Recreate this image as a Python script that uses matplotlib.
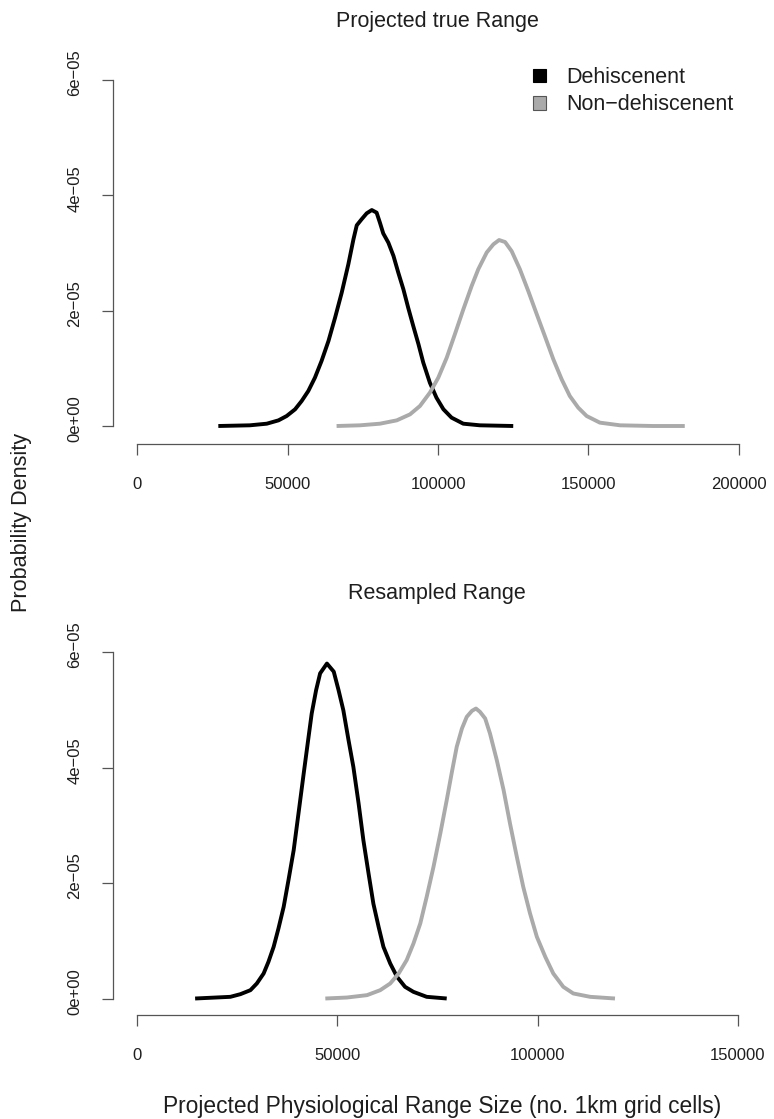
import matplotlib
matplotlib.use("Agg")
import matplotlib.pyplot as plt
import matplotlib.transforms as mtransforms
from matplotlib.patches import Patch

plt.rcParams['font.family'] = ['Liberation Sans', 'DejaVu Sans']

# ---------------- data ----------------
series_names = ["Dehiscenent", "Non\u2212dehiscenent"]

# Panel 1: Projected true Range (x: range size, y: density in units of 1e-5)
true_dehis_x = [27000, 37500, 43100, 47000, 49700, 52500, 54700, 56900, 59100, 61300,
                63600, 65800, 68000, 70200, 71900, 73000, 74600, 76300, 78000, 79600,
                80700, 81800, 83500, 85200, 86800, 88500, 90100, 91800, 93500, 95100,
                97300, 99500, 101800, 104500, 108400, 113900, 125000]
true_dehis_y = [0.00, 0.012, 0.040, 0.098, 0.173, 0.289, 0.434, 0.607, 0.838, 1.127,
                1.474, 1.879, 2.312, 2.803, 3.237, 3.480, 3.584, 3.688, 3.745, 3.700,
                3.526, 3.340, 3.180, 2.950, 2.660, 2.370, 2.050, 1.730, 1.420, 1.100,
                0.750, 0.490, 0.290, 0.145, 0.040, 0.012, 0.00]

true_nondehis_x = [66300, 74100, 80700, 86300, 90700, 94000, 97300, 100100, 102900, 105600,
                   108400, 111200, 113400, 116200, 118400, 120300, 122300, 124500, 127200, 130000,
                   132800, 135500, 138300, 141100, 143800, 146600, 149400, 153800, 160500, 171500,
                   182000]
true_nondehis_y = [0.00, 0.012, 0.040, 0.098, 0.202, 0.347, 0.578, 0.838, 1.185, 1.590,
                   2.020, 2.430, 2.720, 3.010, 3.150, 3.225, 3.190, 3.030, 2.720, 2.340,
                   1.940, 1.560, 1.160, 0.809, 0.520, 0.318, 0.173, 0.058, 0.012, 0.00,
                   0.00]

# Panel 2: Resampled Range
res_dehis_x = [14500, 23300, 25800, 28300, 29900, 31600, 32800, 34100, 35300, 36600,
               37800, 39100, 40300, 41600, 42700, 43600, 44700, 45700, 47400, 49100,
               50300, 51500, 52800, 54000, 55300, 56500, 57800, 59000, 60300, 61500,
               63200, 64900, 66900, 69000, 72300, 77300]
res_dehis_y = [0.00, 0.029, 0.075, 0.144, 0.260, 0.433, 0.635, 0.895, 1.212, 1.587,
               2.049, 2.568, 3.204, 3.896, 4.470, 4.935, 5.340, 5.630, 5.800, 5.660,
               5.340, 4.990, 4.470, 4.010, 3.380, 2.740, 2.160, 1.640, 1.240, 0.895,
               0.606, 0.375, 0.202, 0.115, 0.029, 0.00]

res_nondehis_x = [47000, 52400, 57400, 60700, 63200, 65300, 67300, 69000, 70700, 72300,
                  74000, 75700, 77300, 78600, 79800, 81100, 82300, 83600, 84600, 85600,
                  86900, 88100, 89800, 91500, 93100, 94800, 96400, 98100, 99800, 101900,
                  103900, 106400, 108900, 113100, 119300]
res_nondehis_y = [0.00, 0.017, 0.058, 0.144, 0.260, 0.433, 0.664, 0.952, 1.299, 1.760,
                  2.280, 2.857, 3.434, 3.925, 4.358, 4.675, 4.877, 4.981, 5.021, 4.964,
                  4.849, 4.589, 4.127, 3.608, 3.030, 2.453, 1.934, 1.472, 1.068, 0.722,
                  0.433, 0.202, 0.087, 0.029, 0.00]

y_scale = 1e-5
y_ticks = [0, 2e-5, 4e-5, 6e-5]
y_tick_labels = ["0e+00", "2e\u221205", "4e\u221205", "6e\u221205"]
x_ticks_top = [0, 50000, 100000, 150000, 200000]
x_ticks_bottom = [0, 50000, 100000, 150000]

titles = ["Projected true Range", "Resampled Range"]
xlabel = "Projected Physiological Range Size (no. 1km grid cells)"
ylabel = "Probability Density"

# ---------------- styling ----------------
W, H = 774, 1119
col_black = "#000000"
col_grey = "#AAAAAA"
axis_col = "#555555"
text_col = "#1e1e1e"
lw_curve = 2.8

fig = plt.figure(figsize=(W / 100, H / 100), dpi=100)


def px_axes(left, right, top, bottom):
    return fig.add_axes([left / W, 1 - bottom / H, (right - left) / W, (bottom - top) / H])


def style(ax, xticks, xmax):
    for s in ("top", "right"):
        ax.spines[s].set_visible(False)
    for s in ("left", "bottom"):
        ax.spines[s].set_color(axis_col)
        ax.spines[s].set_linewidth(0.9)
    ax.spines["left"].set_bounds(0, 6e-5)
    ax.spines["bottom"].set_bounds(0, xmax)
    ax.set_yticks(y_ticks)
    ax.set_yticklabels(y_tick_labels, rotation=90, va="center", fontsize=12, color=text_col)
    ax.set_xticks(xticks)
    ax.set_xticklabels([str(v) for v in xticks], fontsize=12, color=text_col)
    ax.tick_params(axis="both", length=8, width=0.9, color=axis_col)
    ax.tick_params(axis="x", pad=16)
    ax.tick_params(axis="y", pad=14)
    shift = mtransforms.ScaledTranslation(0, 0.07, fig.dpi_scale_trans)
    for lab in ax.get_yticklabels():
        lab.set_transform(lab.get_transform() + shift)
    ax.patch.set_alpha(0)


def draw(ax, xs, ys, color):
    ax.plot(xs, [v * y_scale for v in ys], color=color, lw=lw_curve,
            solid_joinstyle="round", solid_capstyle="butt")


# top panel
ax1 = px_axes(113, 763, 66, 444)
ax1.set_xlim(-0.04 * 200000, 1.04 * 200000)
ax1.set_ylim(-(18 / 346) * 6e-5, 6e-5 + (14 / 346) * 6e-5)
draw(ax1, true_dehis_x, true_dehis_y, col_black)
draw(ax1, true_nondehis_x, true_nondehis_y, col_grey)
style(ax1, x_ticks_top, 200000)

# bottom panel
ax2 = px_axes(113, 762, 638, 1014.5)
ax2.set_xlim(-0.04 * 150000, 1.04 * 150000)
ax2.set_ylim(-(16 / 346.5) * 6e-5, 6e-5 + (14 / 346.5) * 6e-5)
draw(ax2, res_dehis_x, res_dehis_y, col_black)
draw(ax2, res_nondehis_x, res_nondehis_y, col_grey)
style(ax2, x_ticks_bottom, 150000)

# titles and labels
fig.text(437 / W, 1 - 21 / H, titles[0], ha="center", va="center", fontsize=15.5, color=text_col)
fig.text(437 / W, 1 - 593 / H, titles[1], ha="center", va="center", fontsize=15.5, color=text_col)
fig.text(442 / W, 1 - 1106 / H, xlabel, ha="center", va="center", fontsize=16.4, color=text_col)
fig.text(22 / W, 1 - 522 / H, ylabel, ha="center", va="center", rotation=90, fontsize=15.6,
         color=text_col)

# legend
handles = [Patch(facecolor=col_black, edgecolor="#000000", linewidth=0.8),
           Patch(facecolor=col_grey, edgecolor="#555555", linewidth=0.8)]
leg = ax1.legend(handles, series_names, loc="upper left",
                 bbox_to_anchor=(533 / W, 1 - 67 / H), bbox_transform=fig.transFigure,
                 frameon=False, fontsize=15.5, handlelength=0.6, handleheight=0.6,
                 handletextpad=0.95, labelspacing=0.3, borderpad=0, borderaxespad=0)
for t in leg.get_texts():
    t.set_color(text_col)

fig.savefig("out.png", dpi=100)
